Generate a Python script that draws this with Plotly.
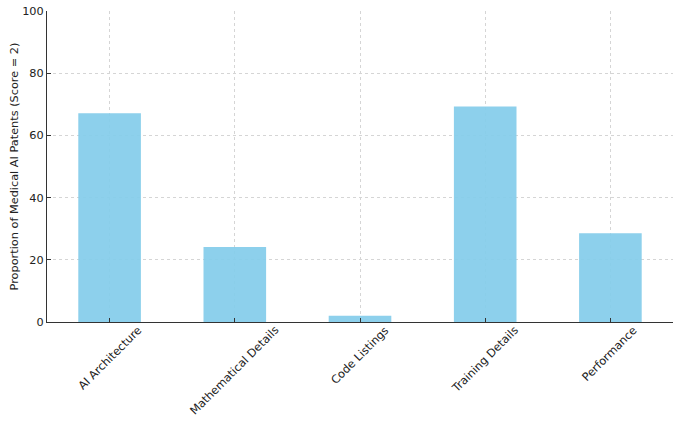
import plotly.graph_objects as go

categories = ["AI Architecture", "Mathematical Details", "Code Listings",
              "Training Details", "Performance"]
proportions = [67.1, 24.1, 2.0, 69.3, 28.5]

fig = go.Figure(go.Bar(
    x=categories, y=proportions,
    marker=dict(color="#87CEEB", line=dict(width=0)),
    opacity=0.95, width=0.5,
))

# rotated category labels, centred under each tick (like matplotlib ha="center")
for cat in categories:
    fig.add_annotation(
        x=cat, y=0, xref="x", yref="y", text=cat, textangle=-45,
        xanchor="center", yanchor="top", yshift=1, showarrow=False,
        font=dict(size=11.3, color="#222222"),
    )

fig.update_layout(
    width=680, height=424,
    margin=dict(l=47, r=7, t=11, b=102),
    paper_bgcolor="white", plot_bgcolor="white",
    font=dict(family="DejaVu Sans", size=11.3, color="#222222"),
    showlegend=False,
)
fig.update_xaxes(
    range=[-0.5, 4.5], automargin=False, showticklabels=False,
    showline=True, linecolor="#333333", linewidth=1,
    ticks="inside", ticklen=4, tickcolor="#333333",
    showgrid=True, gridcolor="#d5d5d5", griddash="dot", gridwidth=1,
)
fig.update_yaxes(
    range=[0, 100], dtick=20, automargin=False, ticklabeloverflow="allow",
    title=dict(text="Proportion of Medical AI Patents (Score = 2)",
               font=dict(size=11.3), standoff=1),
    showline=True, linecolor="#333333", linewidth=1,
    ticks="inside", ticklen=4, tickcolor="#333333",
    showgrid=True, gridcolor="#d5d5d5", griddash="dot", gridwidth=1,
    zeroline=False,
)

# drop the default 8px page margin so the figure sits at the window's corner
fig.write_html("out.html", config={"displayModeBar": False},
               post_script="document.body.style.margin='0';")
